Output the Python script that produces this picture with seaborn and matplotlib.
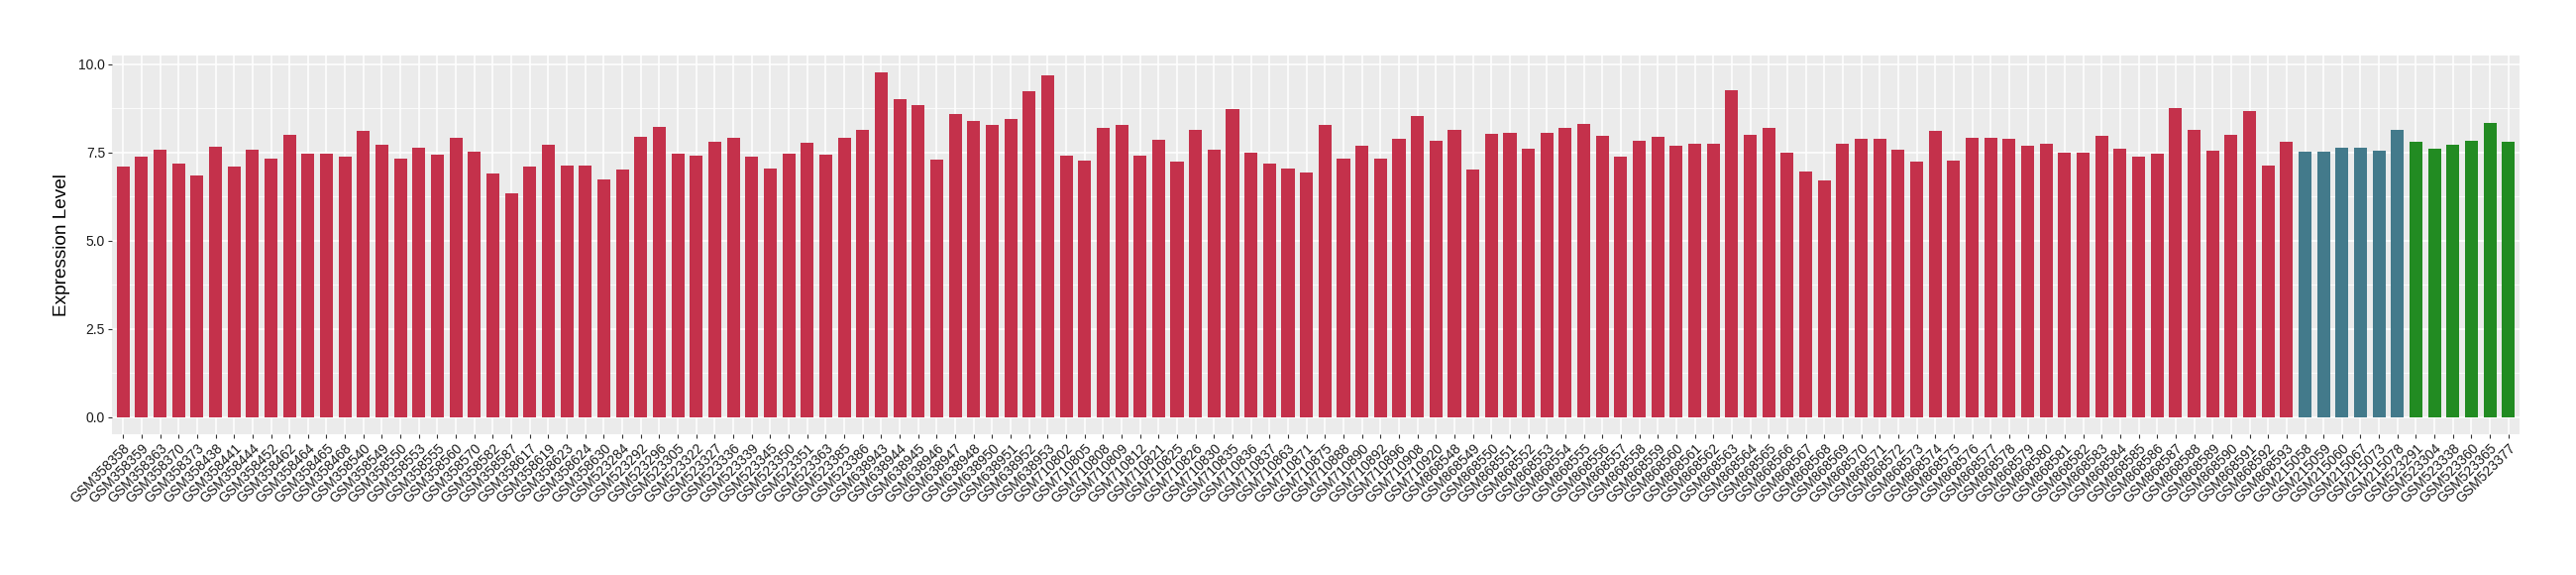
import matplotlib
matplotlib.use("Agg")
import matplotlib.pyplot as plt
import seaborn as sns
import pandas as pd
import numpy as np

red_samples = [
    "GSM358358", "GSM358359", "GSM358363", "GSM358370", "GSM358373", "GSM358438",
    "GSM358441", "GSM358444", "GSM358452", "GSM358462", "GSM358464", "GSM358465",
    "GSM358468", "GSM358540", "GSM358549", "GSM358550", "GSM358553", "GSM358555",
    "GSM358560", "GSM358570", "GSM358582", "GSM358587", "GSM358617", "GSM358619",
    "GSM358623", "GSM358624", "GSM358630", "GSM523284", "GSM523292", "GSM523296",
    "GSM523305", "GSM523322", "GSM523327", "GSM523336", "GSM523339", "GSM523345",
    "GSM523350", "GSM523351", "GSM523363", "GSM523385", "GSM523386", "GSM638943",
    "GSM638944", "GSM638945", "GSM638946", "GSM638947", "GSM638948", "GSM638950",
    "GSM638951", "GSM638952", "GSM638953", "GSM710802", "GSM710805", "GSM710808",
    "GSM710809", "GSM710812", "GSM710821", "GSM710825", "GSM710826", "GSM710830",
    "GSM710835", "GSM710836", "GSM710837", "GSM710863", "GSM710871", "GSM710875",
    "GSM710888", "GSM710890", "GSM710892", "GSM710896", "GSM710908", "GSM710920",
    "GSM868548", "GSM868549", "GSM868550", "GSM868551", "GSM868552", "GSM868553",
    "GSM868554", "GSM868555", "GSM868556", "GSM868557", "GSM868558", "GSM868559",
    "GSM868560", "GSM868561", "GSM868562", "GSM868563", "GSM868564", "GSM868565",
    "GSM868566", "GSM868567", "GSM868568", "GSM868569", "GSM868570", "GSM868571",
    "GSM868572", "GSM868573", "GSM868574", "GSM868575", "GSM868576", "GSM868577",
    "GSM868578", "GSM868579", "GSM868580", "GSM868581", "GSM868582", "GSM868583",
    "GSM868584", "GSM868585", "GSM868586", "GSM868587", "GSM868588", "GSM868589",
    "GSM868590", "GSM868591", "GSM868592", "GSM868593",
]
red_values = [
    7.09, 7.37, 7.58, 7.18, 6.85, 7.67, 7.09, 7.58, 7.34, 7.99, 7.47, 7.47,
    7.37, 8.10, 7.72, 7.34, 7.64, 7.45, 7.91, 7.53, 6.90, 6.35, 7.09, 7.72,
    7.12, 7.12, 6.74, 7.01, 7.94, 8.24, 7.47, 7.42, 7.80, 7.91, 7.37, 7.04,
    7.47, 7.77, 7.45, 7.91, 8.13, 9.76, 9.00, 8.84, 7.31, 8.59, 8.40, 8.29,
    8.45, 9.24, 9.68, 7.42, 7.28, 8.21, 8.27, 7.42, 7.85, 7.25, 8.13, 7.58,
    8.73, 7.50, 7.20, 7.04, 6.93, 8.29, 7.34, 7.69, 7.34, 7.88, 8.54, 7.83,
    8.15, 7.01, 8.02, 8.07, 7.61, 8.07, 8.21, 8.31, 7.97, 7.39, 7.83, 7.94,
    7.69, 7.74, 7.74, 9.27, 7.99, 8.21, 7.50, 6.95, 6.71, 7.74, 7.88, 7.88,
    7.58, 7.23, 8.10, 7.28, 7.91, 7.91, 7.88, 7.69, 7.74, 7.50, 7.50, 7.97,
    7.61, 7.39, 7.47, 8.75, 8.13, 7.55, 7.99, 8.67, 7.12, 7.80,
]
blue_samples = ["GSM215058", "GSM215059", "GSM215060", "GSM215067", "GSM215073", "GSM215078"]
blue_values = [7.53, 7.53, 7.64, 7.64, 7.55, 8.13]
green_samples = ["GSM523291", "GSM523304", "GSM523338", "GSM523360", "GSM523365", "GSM523377"]
green_values = [7.80, 7.61, 7.72, 7.83, 8.34, 7.80]

group_colors = {"A": "#C4314B", "B": "#437A8B", "C": "#228B22"}

df = pd.DataFrame({
    "sample": red_samples + blue_samples + green_samples,
    "value": red_values + blue_values + green_values,
    "group": ["A"] * len(red_samples) + ["B"] * len(blue_samples) + ["C"] * len(green_samples),
})

plt.rcParams["font.family"] = ["Liberation Sans", "DejaVu Sans"]
fig = plt.figure(figsize=(26, 5.8), dpi=100)
ax = fig.add_axes([113 / 2600, 1 - 438 / 580, (2543 - 113) / 2600, (438 - 56) / 580])
ax.set_facecolor("#EBEBEB")

sns.barplot(data=df, x="sample", y="value", hue="group", order=df["sample"].tolist(),
            palette=group_colors, dodge=False, width=0.7, legend=False,
            saturation=1, ax=ax, zorder=3)

n = len(df)
ax.set_xlim(-0.6, n - 1 + 0.6)
ax.set_ylim(-0.488, 10.25)
ax.set_yticks([0, 2.5, 5.0, 7.5, 10.0])
ax.set_yticklabels(["0.0", "2.5", "5.0", "7.5", "10.0"])
ax.set_yticks([1.25, 3.75, 6.25, 8.75], minor=True)
ax.grid(True, which="major", axis="both", color="white", linewidth=1.1, zorder=0)
ax.grid(True, which="minor", axis="y", color="white", linewidth=0.55, zorder=0)
ax.set_axisbelow(True)
for s in ax.spines.values():
    s.set_visible(False)

ax.tick_params(axis="both", which="major", length=3, width=0.8, color="#333333",
               labelsize=10, labelcolor="#1A1A1A", pad=2)
ax.tick_params(axis="both", which="minor", length=0)
plt.setp(ax.get_xticklabels(), rotation=45, ha="right", va="top", rotation_mode="anchor")

ax.set_xlabel("")
ax.set_ylabel("Expression Level", fontsize=13.7, color="black", labelpad=6)

fig.savefig("out.png", dpi=100, facecolor="white")
